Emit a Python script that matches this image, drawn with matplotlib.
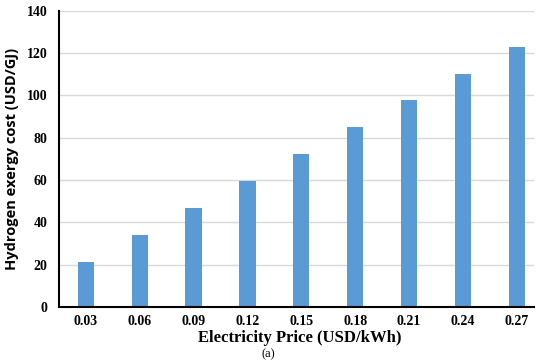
import matplotlib.pyplot as plt
import numpy as np

# Electricity price categories and hydrogen exergy cost
prices = ['0.03', '0.06', '0.09', '0.12', '0.15', '0.18', '0.21', '0.24', '0.27']
cost = [21.1, 34.0, 47.0, 59.6, 72.3, 85.0, 97.8, 110.3, 122.9]
yticks = [0, 20, 40, 60, 80, 100, 120, 140]

fig = plt.figure(figsize=(5.5, 3.64), dpi=100)
ax = fig.add_axes([0.107, 0.157, 0.864, 0.813])

x = np.arange(len(prices))
ax.bar(x, cost, width=0.3, color='#5B9BD5', zorder=3)

ax.set_xlim(-0.5, 8.32)
ax.set_ylim(0, 140)
ax.set_yticks(yticks)
ax.set_xticks(x)
ax.set_xticklabels(prices)
ax.grid(axis='y', color='#D9D9D9', linewidth=1, zorder=0)

for s in ['top', 'right']:
    ax.spines[s].set_visible(False)
for s in ['left', 'bottom']:
    ax.spines[s].set_linewidth(1.5)
    ax.spines[s].set_zorder(4)

ax.tick_params(axis='x', length=0, pad=6)
ax.tick_params(axis='y', length=0, pad=8)
for lab in ax.get_xticklabels() + ax.get_yticklabels():
    lab.set_fontfamily('Liberation Serif')
    lab.set_fontweight('bold')
    lab.set_fontsize(10)

ax.set_ylabel('Hydrogen exergy cost (USD/GJ)', fontfamily='Open Sans',
              fontweight='bold', fontsize=10.5, labelpad=6)
fig.text(0.545, 0.072, 'Electricity Price (USD/kWh)', ha='center', va='center',
         fontfamily='Liberation Serif', fontweight='bold', fontsize=12)
fig.text(0.487, 0.026, '(a)', ha='center', va='center',
         fontfamily='Liberation Serif', fontsize=9)

fig.savefig('out.png', dpi=100)
